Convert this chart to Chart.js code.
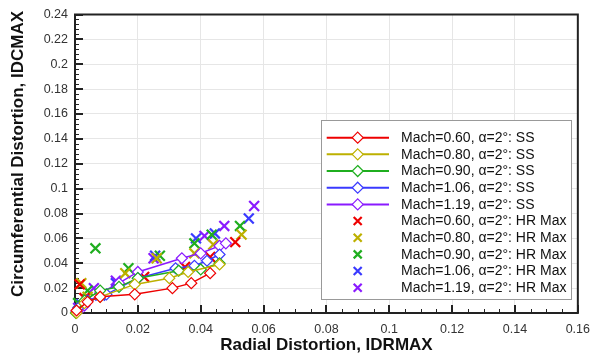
<!DOCTYPE html>
<html>
<head>
<meta charset="utf-8">
<script src="https://cdn.jsdelivr.net/npm/chart.js@4/dist/chart.umd.min.js"></script>
<style>
  html, body { margin: 0; padding: 0; background: #fff; }
  canvas { display: block; }
</style>
</head>
<body>
<canvas id="chart" width="599" height="358"></canvas>
<script>
// --- Data ---
const xTicks = [0, 0.02, 0.04, 0.06, 0.08, 0.1, 0.12, 0.14, 0.16];
const yTicks = [0, 0.02, 0.04, 0.06, 0.08, 0.1, 0.12, 0.14, 0.16, 0.18, 0.2, 0.22, 0.24];

const machLabels = ['0.60', '0.80', '0.90', '1.06', '1.19'];
const seriesColors = ['#ee0000', '#bdb000', '#1fae1f', '#3a3aff', '#8a1aff'];

// steady state (lines with diamonds)
const ss060 = [[0.0005, 0.002], [0.004, 0.009], [0.008, 0.013], [0.019, 0.015], [0.031, 0.020], [0.037, 0.024], [0.043, 0.032]];
const ss080 = [[0.0005, 0.000], [0.003, 0.008], [0.008, 0.013], [0.019, 0.023], [0.030, 0.028], [0.036, 0.033], [0.046, 0.039]];
const ss090 = [[0.0003, 0.000], [0.003, 0.010], [0.008, 0.018], [0.014, 0.021], [0.020, 0.028], [0.033, 0.034], [0.040, 0.035], [0.046, 0.040]];
const ss106 = [[0.001, 0.004], [0.004, 0.010], [0.010, 0.015], [0.020, 0.028], [0.032, 0.036], [0.038, 0.038], [0.042, 0.042], [0.046, 0.047]];
const ss119 = [[0.0005, 0.001], [0.003, 0.006], [0.008, 0.016], [0.014, 0.024], [0.020, 0.033], [0.034, 0.044], [0.040, 0.048], [0.046, 0.054], [0.048, 0.056]];

// HR max (X markers)
const hr060 = [[0.0015, 0.023], [0.003, 0.012], [0.022, 0.029], [0.035, 0.037], [0.043, 0.045], [0.051, 0.057]];
const hr080 = [[0.002, 0.024], [0.004, 0.013], [0.016, 0.032], [0.026, 0.044], [0.038, 0.048], [0.044, 0.055], [0.053, 0.063]];
const hr090 = [[0.001, 0.008], [0.0065, 0.052], [0.004, 0.018], [0.017, 0.036], [0.027, 0.046], [0.038, 0.056], [0.0435, 0.063], [0.0525, 0.070]];
const hr106 = [[0.002, 0.007], [0.008, 0.014], [0.013, 0.024], [0.0255, 0.046], [0.0385, 0.060], [0.0445, 0.064], [0.0553, 0.076]];
const hr119 = [[0.001, 0.004], [0.006, 0.020], [0.013, 0.026], [0.025, 0.044], [0.0412, 0.062], [0.0475, 0.070], [0.057, 0.086]];

const ssSeries = [ss060, ss080, ss090, ss106, ss119];
const hrSeries = [hr060, hr080, hr090, hr106, hr119];

const fontName = '"Liberation Sans", Arial, sans-serif';
const toPts = arr => arr.map(([x, y]) => ({ x, y }));

// --- Datasets ---
const datasets = [];
ssSeries.forEach((s, i) => {
    datasets.push({
        label: `Mach=${machLabels[i]}, α=2°: SS`,
        data: toPts(s),
        showLine: true,
        borderColor: seriesColors[i],
        borderWidth: 1.5,
        pointStyle: 'rectRot',
        pointRadius: 5.5,
        pointBorderWidth: 1.2,
        pointBackgroundColor: '#fff',
        pointBorderColor: seriesColors[i],
        clip: false
    });
});
hrSeries.forEach((s, i) => {
    datasets.push({
        label: `Mach=${machLabels[i]}, α=2°: HR Max`,
        data: toPts(s),
        showLine: false,
        borderColor: seriesColors[i],
        pointStyle: 'crossRot',
        pointRadius: 7,
        pointBorderWidth: 2.2,
        pointBorderColor: seriesColors[i],
        clip: false
    });
});

const fmt = v => String(+Number(v).toFixed(3));

// --- Frame, inward ticks, axis titles, legend ---
const framePlugin = {
    id: 'frame',
    beforeDatasetsDraw(chart) {
        const { ctx, chartArea: a, scales: { x, y } } = chart;
        ctx.save();
        ctx.strokeStyle = '#222';
        // minor ticks
        ctx.lineWidth = 1;
        ctx.beginPath();
        for (let v = 0; v <= 0.1601; v += 0.005) {
            const px = Math.round(x.getPixelForValue(v)) + 0.5;
            ctx.moveTo(px, a.bottom); ctx.lineTo(px, a.bottom - 4);
        }
        for (let v = 0; v <= 0.2401; v += 0.004) {
            const py = Math.round(y.getPixelForValue(v)) + 0.5;
            ctx.moveTo(a.left, py); ctx.lineTo(a.left + 4, py);
        }
        ctx.stroke();
        // major ticks
        ctx.lineWidth = 2;
        ctx.beginPath();
        xTicks.forEach(v => {
            const px = Math.round(x.getPixelForValue(v));
            ctx.moveTo(px, a.bottom); ctx.lineTo(px, a.bottom - 8);
        });
        yTicks.forEach(v => {
            const py = Math.round(y.getPixelForValue(v));
            ctx.moveTo(a.left, py); ctx.lineTo(a.left + 8, py);
        });
        ctx.stroke();
        ctx.lineWidth = 2;
        ctx.strokeRect(a.left, a.top, a.right - a.left, a.bottom - a.top);
        ctx.restore();
    },
    afterDraw(chart) {
        const { ctx, chartArea: a } = chart;
        ctx.save();
        ctx.fillStyle = '#111';
        ctx.font = `bold 17px ${fontName}`;
        ctx.textAlign = 'center';
        ctx.textBaseline = 'alphabetic';
        ctx.fillText('Radial Distortion, IDRMAX', (a.left + a.right) / 2, 350);
        ctx.translate(22.5, 154);
        ctx.rotate(-Math.PI / 2);
        ctx.fillText('Circumferential Distortion, IDCMAX', 0, 0);
        ctx.restore();

        // legend box
        const box = { left: 321, top: 120, right: 571, bottom: 299 };
        const rowH = 16.67, row0 = 137.7;
        ctx.save();
        ctx.fillStyle = '#fff';
        ctx.fillRect(box.left, box.top, box.right - box.left, box.bottom - box.top);
        ctx.strokeStyle = '#999';
        ctx.lineWidth = 1;
        ctx.strokeRect(box.left + 0.5, box.top + 0.5, box.right - box.left, box.bottom - box.top);
        ctx.font = `14px ${fontName}`;
        ctx.textBaseline = 'middle';
        ctx.textAlign = 'left';
        chart.data.datasets.forEach((ds, i) => {
            const cy = row0 + i * rowH;
            const cx = 357.7;
            const col = ds.borderColor;
            ctx.strokeStyle = col;
            if (ds.showLine) {
                ctx.lineWidth = 2;
                ctx.beginPath();
                ctx.moveTo(326.7, cy); ctx.lineTo(389, cy);
                ctx.stroke();
                ctx.fillStyle = '#fff';
                ctx.lineWidth = 1.2;
                const r = 5.5;
                ctx.beginPath();
                ctx.moveTo(cx, cy - r); ctx.lineTo(cx + r, cy);
                ctx.lineTo(cx, cy + r); ctx.lineTo(cx - r, cy);
                ctx.closePath();
                ctx.fill(); ctx.stroke();
            } else {
                ctx.lineWidth = 2.2;
                const h = 4;
                ctx.beginPath();
                ctx.moveTo(cx - h, cy - h); ctx.lineTo(cx + h, cy + h);
                ctx.moveTo(cx + h, cy - h); ctx.lineTo(cx - h, cy + h);
                ctx.stroke();
            }
            ctx.fillStyle = '#111';
            ctx.fillText(ds.label, 401, cy + 0.5);
        });
        ctx.restore();
    }
};

const chart = new Chart(document.getElementById('chart'), {
    type: 'scatter',
    data: { datasets },
    options: {
        responsive: false,
        animation: false,
        layout: { padding: { top: 13, right: 15, left: 0, bottom: 0 } },
        plugins: { legend: { display: false }, tooltip: { enabled: false } },
        scales: {
            x: {
                type: 'linear',
                min: 0,
                max: 0.16,
                afterFit: s => { s.height = 45; },
                afterBuildTicks: s => { s.ticks = xTicks.map(v => ({ value: v })); },
                ticks: { padding: 9, color: '#333', font: { family: fontName, size: 12.5 }, callback: fmt, maxRotation: 0 },
                grid: { color: '#e6e6e6', drawTicks: false },
                border: { display: false }
            },
            y: {
                type: 'linear',
                min: 0,
                max: 0.24,
                afterFit: s => { s.width = 75; },
                afterBuildTicks: s => { s.ticks = yTicks.map(v => ({ value: v })); },
                ticks: { padding: 7, color: '#333', font: { family: fontName, size: 12.5 }, callback: fmt },
                grid: { color: '#e6e6e6', drawTicks: false },
                border: { display: false }
            }
        }
    },
    plugins: [framePlugin]
});
</script>
</body>
</html>
